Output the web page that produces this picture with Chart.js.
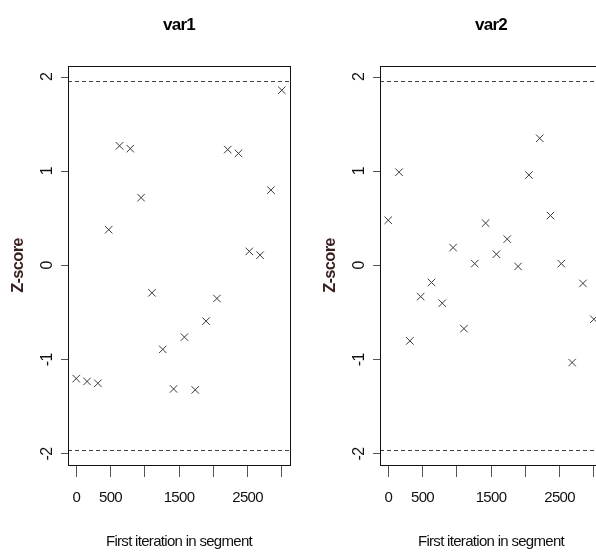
<html>
  <head>
    <script src="https://cdn.jsdelivr.net/npm/chart.js@4.4.0/dist/chart.umd.min.js"></script>
    <title>Geweke plot</title>
    <style>
      body {
        margin: 0;
        background-color: white;
        width: 596px;
        height: 552px;
        overflow: hidden;
        position: relative;
      }
      .panel {
        position: absolute;
        top: 0;
      }
    </style>
  </head>

  <body>
    <canvas id="var1" class="panel" width="312" height="552" style="left:0px"></canvas>
    <canvas id="var2" class="panel" width="312" height="552" style="left:312px"></canvas>
  </body>

  <script>
    // first iteration of each segment (x) and the z-scores for each variable
    var iterStart = [0, 158, 316, 474, 632, 789, 947, 1105, 1263, 1421, 1579, 1737, 1895, 2053, 2211, 2368, 2526, 2684, 2842, 3000];
    var var1 = [-1.20, -1.23, -1.25, 0.38, 1.27, 1.24, 0.72, -0.29, -0.89, -1.31, -0.76, -1.32, -0.59, -0.35, 1.23, 1.19, 0.15, 0.11, 0.80, 1.86];
    var var2 = [0.48, 0.99, -0.80, -0.33, -0.18, -0.40, 0.19, -0.67, 0.02, 0.45, 0.12, 0.28, -0.01, 0.96, 1.35, 0.53, 0.02, -1.03, -0.19, -0.57];

    var xTicks = [0, 500, 1000, 1500, 2000, 2500, 3000];
    var xLabels = ["0", "500", "", "1500", "", "2500", ""];
    var yTicks = [-2, -1, 0, 1, 2];
    var limits = [-1.96, 1.96];

    var sans = "'Liberation Sans', Arial, sans-serif";

    // R's narrow text: squeeze letters for title + x axis, normal for the y axis
    var squeeze = {
      id: 'squeeze',
      beforeDraw: function(chart) { chart.ctx.letterSpacing = '-0.7px'; },
      beforeDatasetsDraw: function(chart) { chart.ctx.letterSpacing = '0px'; }
    };

    // box round the plot + dashed +/-1.96 lines
    var gewekeLines = {
      id: 'gewekeLines',
      afterDatasetsDraw: function(chart) {
        var ctx = chart.ctx;
        var a = chart.chartArea;
        var y = chart.scales.y;
        ctx.save();
        ctx.strokeStyle = '#444';
        ctx.lineWidth = 1;
        ctx.setLineDash([4, 3]);
        for (var i = 0; i < limits.length; i++) {
          var py = Math.round(y.getPixelForValue(limits[i])) + 0.5;
          ctx.beginPath();
          ctx.moveTo(a.left, py);
          ctx.lineTo(a.right, py);
          ctx.stroke();
        }
        ctx.setLineDash([]);
        ctx.strokeStyle = '#111';
        ctx.strokeRect(Math.round(a.left) + 0.5, Math.round(a.top) + 0.5,
          Math.round(a.right - a.left), Math.round(a.bottom - a.top));
        ctx.restore();
      }
    };

    function makePanel(id, name, z) {
      var pts = [];
      for (var i = 0; i < iterStart.length; i++) {
        pts.push({x: iterStart[i], y: z[i]});
      }
      new Chart(document.getElementById(id), {
        type: 'scatter',
        data: {
          datasets: [{
            data: pts,
            pointStyle: 'crossRot',
            pointRadius: 5.3,
            pointHoverRadius: 5.3,
            borderColor: '#3a3a3a',
            backgroundColor: 'rgba(0,0,0,0)',
            borderWidth: 1
          }]
        },
        options: {
          responsive: false,
          animation: false,
          events: [],
          layout: { padding: { left: 0, right: 22, top: 0, bottom: 0 } },
          plugins: {
            legend: { display: false },
            tooltip: { enabled: false },
            title: {
              display: true,
              text: name,
              fullSize: false,
              color: '#000',
              font: { family: sans, size: 17, weight: 'bold' },
              padding: { top: 15, bottom: 30.6 }
            }
          },
          scales: {
            x: {
              type: 'linear',
              min: -120,
              max: 3120,
              afterBuildTicks: function(scale) {
                scale.ticks = xTicks.map(function(v) { return {value: v}; });
              },
              afterFit: function(scale) { scale.height = 87; },
              border: { display: false },
              grid: { drawOnChartArea: false, drawTicks: true, tickLength: 12, color: '#555' },
              ticks: {
                autoSkip: false,
                maxRotation: 0,
                padding: 12,
                color: '#111',
                font: { family: sans, size: 15 },
                callback: function(v, i) { return xLabels[i]; }
              },
              title: {
                display: true,
                text: 'First iteration in segment',
                color: '#111',
                font: { family: sans, size: 15 },
                padding: { top: 0, bottom: 1 }
              }
            },
            y: {
              type: 'linear',
              z: 1,
              min: -2.117,
              max: 2.117,
              afterBuildTicks: function(scale) {
                scale.ticks = yTicks.map(function(v) { return {value: v}; });
              },
              afterFit: function(scale) { scale.width = 68; },
              border: { display: false },
              grid: { drawOnChartArea: false, drawTicks: true, tickLength: 7, color: '#555' },
              ticks: {
                autoSkip: false,
                minRotation: 90,
                maxRotation: 90,
                crossAlign: 'center',
                padding: 6,
                color: '#111',
                font: { family: sans, size: 16 }
              },
              title: {
                display: true,
                text: 'Z-score',
                color: '#3a2020',
                font: { family: sans, size: 16.5, weight: 'bold' },
                padding: { top: 9, bottom: 0 }
              }
            }
          }
        },
        plugins: [squeeze, gewekeLines]
      });
    }

    makePanel('var1', 'var1', var1);
    makePanel('var2', 'var2', var2);
  </script>
</html>
